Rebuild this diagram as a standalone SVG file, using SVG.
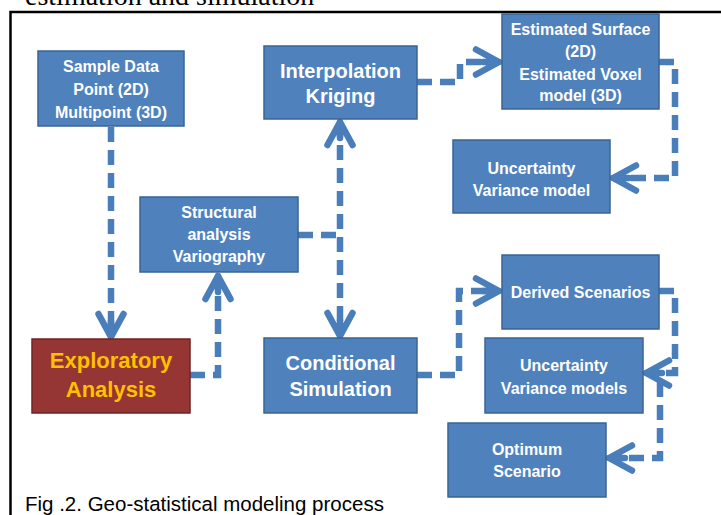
<svg xmlns="http://www.w3.org/2000/svg" width="721" height="515" viewBox="0 0 721 515">
<style>
.box{fill:#4F81BD;stroke:#3A6494;stroke-width:1.5}
.red{fill:#963634;stroke:#6E2523;stroke-width:1.5}
.t{font-family:"Liberation Sans",Arial,sans-serif;font-weight:bold;fill:#FFFFFF;text-anchor:middle;font-size:16px}
.big{font-size:20px}
.exp{font-size:22px;fill:#FFC000}
.con{fill:none;stroke:#4A7EBB;stroke-width:6.5;stroke-dasharray:15 8}
.frame{fill:none;stroke:#000;stroke-width:2.5}
</style>
<defs>
<marker id="ah" markerUnits="userSpaceOnUse" markerWidth="40" markerHeight="40" refX="0" refY="0" viewBox="-30 -20 40 40" orient="auto-start-reverse" overflow="visible">
<path d="M -23 -12.5 L 0 0 L -23 12.5 M 0 0 L -16 0" fill="none" stroke="#4A7EBB" stroke-width="6.5" stroke-linecap="round" stroke-linejoin="round"/>
</marker>
</defs>
<rect width="721" height="515" fill="#fff"/>
<text x="25" y="5" font-family="Liberation Serif,'Times New Roman',serif" font-size="28" fill="#000">estimation and simulation</text>
<path class="frame" d="M 10.5 515 L 10.5 12 L 721 12"/>
<text x="25" y="511" font-family="Liberation Sans,Arial,sans-serif" font-size="20.5" fill="#000">Fig .2. Geo-statistical modeling process</text>

<g id="connectors">
<path class="con" d="M 111 127 L 111 337" marker-end="url(#ah)"/>
<path class="con" d="M 190 375 L 218 375 L 218 276" marker-end="url(#ah)"/>
<path class="con" d="M 298 235 L 340 235"/>
<path class="con" d="M 340 122 L 340 336" marker-start="url(#ah)" marker-end="url(#ah)"/>
<path class="con" d="M 417 82 L 460 82 L 460 62 L 499 62" marker-end="url(#ah)"/>
<path class="con" d="M 659 62 L 675 62 L 675 178 L 613 178" marker-end="url(#ah)"/>
<path class="con" d="M 417 375 L 459 375 L 459 291 L 499 291" marker-end="url(#ah)"/>
<path class="con" d="M 659 291 L 675 291 L 675 373 L 646 373" marker-end="url(#ah)"/>
<path class="con" d="M 660 382 L 660 458 L 609 458" marker-end="url(#ah)"/>
</g>

<g id="sample">
<rect class="box" x="38" y="51" width="146" height="75"/>
<text class="t" x="111" y="72">Sample Data</text>
<text class="t" x="111" y="95">Point (2D)</text>
<text class="t" x="111" y="118">Multipoint (3D)</text>
</g>
<g id="interpolation">
<rect class="box" x="264" y="46" width="153" height="73"/>
<text class="t big" x="340.5" y="78">Interpolation</text>
<text class="t big" x="340.5" y="103">Kriging</text>
</g>
<g id="estimated">
<rect class="box" x="502" y="14" width="157" height="95"/>
<text class="t" x="580.5" y="35">Estimated Surface</text>
<text class="t" x="580.5" y="57">(2D)</text>
<text class="t" x="580.5" y="80">Estimated Voxel</text>
<text class="t" x="580.5" y="101">model (3D)</text>
</g>
<g id="uncertainty1">
<rect class="box" x="453" y="140" width="157" height="73"/>
<text class="t" x="531.5" y="174">Uncertainty</text>
<text class="t" x="531.5" y="196">Variance model</text>
</g>
<g id="structural">
<rect class="box" x="140" y="197" width="158" height="75"/>
<text class="t" x="219" y="218">Structural</text>
<text class="t" x="219" y="240">analysis</text>
<text class="t" x="219" y="262">Variography</text>
</g>
<g id="exploratory">
<rect class="red" x="32" y="339" width="158" height="74"/>
<text class="t exp" x="111" y="368">Exploratory</text>
<text class="t exp" x="111" y="397">Analysis</text>
</g>
<g id="conditional">
<rect class="box" x="264" y="338" width="153" height="75"/>
<text class="t big" x="340.5" y="370">Conditional</text>
<text class="t big" x="340.5" y="396">Simulation</text>
</g>
<g id="derived">
<rect class="box" x="502" y="255" width="157" height="74"/>
<text class="t" x="580.5" y="298">Derived Scenarios</text>
</g>
<g id="uncertainty2">
<rect class="box" x="485" y="338" width="158" height="75"/>
<text class="t" x="564" y="371">Uncertainty</text>
<text class="t" x="564" y="394">Variance models</text>
</g>
<g id="optimum">
<rect class="box" x="448" y="423" width="158" height="74"/>
<text class="t" x="527" y="455">Optimum</text>
<text class="t" x="527" y="477">Scenario</text>
</g>
</svg>
